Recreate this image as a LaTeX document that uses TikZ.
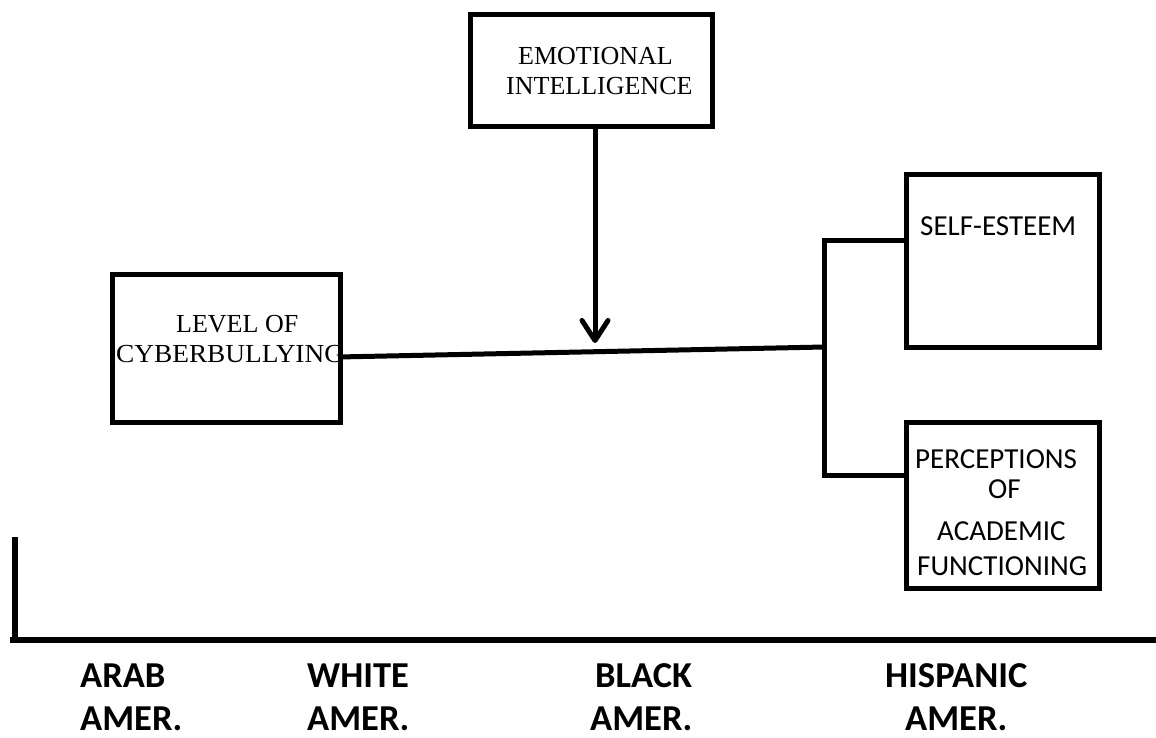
\documentclass[tikz,border=0pt]{standalone}
\usepackage{fontspec}
\newfontfamily\timesf{Liberation Serif}
\newfontfamily\calib{Carlito}
\usetikzlibrary{arrows.meta}
\tikzset{
  box/.style={draw=black, line width=5pt, rectangle, inner sep=0pt, anchor=north west},
  conn/.style={draw=black, line width=5pt},
  sertext/.style={inner sep=0pt, anchor=base west, font=\timesf\fontsize{26}{30}\selectfont},
  caltext/.style={inner sep=0pt, anchor=base west, font=\calib\fontsize{29}{33}\selectfont},
  grptext/.style={inner sep=0pt, anchor=base west, font=\calib\bfseries\fontsize{36.5}{42}\selectfont},
}
\begin{document}
\begin{tikzpicture}[x=1pt,y=-1pt]
\useasboundingbox (0,0) rectangle (1156,738);
% texts
\node[sertext] (ei1) at (518,65) {EMOTIONAL};
\node[sertext] (ei2) at (506,95) {INTELLIGENCE};
\node[sertext] (loc1) at (176,332) {LEVEL OF};
\node[sertext] (loc2) at (116,362) {\scalebox{1.05}[1]{CYBERBULLYING}};
\node[caltext] (se1) at (920,235) {SELF-ESTEEM};
\node[caltext] (paf1) at (915,468) {PERCEPTIONS};
\node[caltext] (paf2) at (988,498) {OF};
\node[caltext] (paf3) at (937,540) {ACADEMIC};
\node[caltext] (paf4) at (917,575) {FUNCTIONING};
% boxes
\node[box, minimum width=242pt, minimum height=111.5pt] (ei) at (468,12.5) {};
\node[box, minimum width=228pt, minimum height=148pt] (loc) at (110,272) {};
\node[box, minimum width=193pt, minimum height=173pt] (se) at (904,172) {};
\node[box, minimum width=193pt, minimum height=166pt] (paf) at (904,420) {};
% coordinates
\coordinate (locout) at (338,357);
\coordinate (junc) at (824.5,347);
\coordinate (brtop) at (824.5,240);
\coordinate (brbot) at (824.5,475);
\coordinate (arrtop) at (595,124);
\coordinate (arrtip) at (595,343);
% connectors
\draw[conn] (locout) -- (junc);
\draw[conn] (se.west |- brtop) -- (brtop) -- (brbot) -- (paf.west |- brbot);
\draw[conn, -{Straight Barb[length=20pt, width=26pt, round]}] (arrtop) -- (arrtip);
% axis
\coordinate (axtop) at (15,537);
\coordinate (axcorner) at (15,640);
\coordinate (axstart) at (10,640);
\coordinate (axend) at (1156,640);
\draw[line width=5.5pt] (axtop) -- (axcorner);
\draw[line width=5.5pt] (axstart) -- (axend);
% group labels
\node[grptext] (g1a) at (80,687) {ARAB};
\node[grptext] (g1b) at (80,730) {AMER.};
\node[grptext] (g2a) at (307,687) {WHITE};
\node[grptext] (g2b) at (307,730) {AMER.};
\node[grptext] (g3a) at (595,687) {BLACK};
\node[grptext] (g3b) at (590,730) {AMER.};
\node[grptext] (g4a) at (885,687) {HISPANIC};
\node[grptext] (g4b) at (905,730) {AMER.};
\end{tikzpicture}
\end{document}
